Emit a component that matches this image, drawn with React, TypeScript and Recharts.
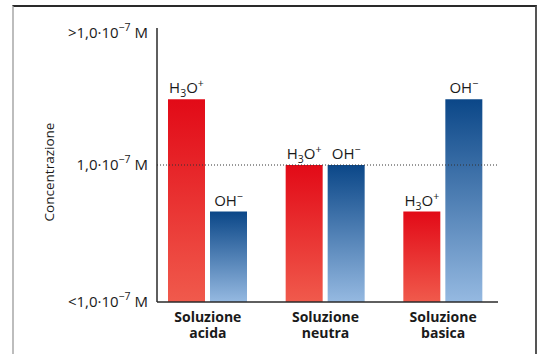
import { BarChart, Bar, XAxis, YAxis, ReferenceLine, LabelList } from 'recharts'

const categories = ['Soluzione acida', 'Soluzione neutra', 'Soluzione basica']
const h3oValues = [74, 50, 33]
const ohValues = [33, 50, 74]
const yTicks = [0, 50, 98]
const yTickPrefix: Record<number, string> = { 0: '<', 50: '', 98: '>' }

const data = categories.map((name, i) => ({ name, h3o: h3oValues[i], oh: ohValues[i] }))

const FONT = '"Open Sans", "Noto Sans", sans-serif'

function YTick(props: any) {
  const { x, y, payload } = props
  const prefix = yTickPrefix[payload.value] ?? ''
  return (
    <text x={x - 1} y={y} dy={5} textAnchor="end" fontFamily={FONT} fontSize={15} fill="#1a1a1a">
      {prefix}1,0·10
      <tspan dy={-7} fontSize={10.5}>−7</tspan>
      <tspan dy={7}> M</tspan>
    </text>
  )
}

function XTick(props: any) {
  const { x, y, payload } = props
  const [a, b] = String(payload.value).split(' ')
  return (
    <text x={x} y={y} textAnchor="middle" fontFamily={FONT} fontSize={14} fontWeight={700} fill="#1a1a1a">
      <tspan x={x} dy={12}>{a}</tspan>
      <tspan x={x} dy={16}>{b}</tspan>
    </text>
  )
}

function IonLabel(kind: 'h3o' | 'oh') {
  return (props: any) => {
    const { x, y, width } = props
    const cx = x + width / 2
    if (kind === 'h3o') {
      return (
        <text x={cx} y={y - 6} textAnchor="middle" fontFamily={FONT} fontSize={15} fill="#1a1a1a">
          H<tspan dy={4} fontSize={10.5}>3</tspan>
          <tspan dy={-4}>O</tspan>
          <tspan dy={-6} fontSize={10.5}>+</tspan>
        </text>
      )
    }
    return (
      <text x={cx} y={y - 6} textAnchor="middle" fontFamily={FONT} fontSize={15} fill="#1a1a1a">
        OH<tspan dy={-6} fontSize={10.5}>−</tspan>
      </text>
    )
  }
}

export default function App() {
  return (
    <div style={{ position: 'absolute', left: 0, top: 0, width: 544, height: 354, background: '#fff' }}>
      <div
        style={{
          position: 'absolute',
          left: 12,
          top: 5,
          width: 521,
          height: 360,
          borderTop: '2px solid #2a2a2a',
          borderLeft: '2px solid #bdbdbd',
          borderRight: '2px solid #555',
        }}
      />
      <div
        style={{
          position: 'absolute',
          left: 49,
          top: 172,
          transform: 'translate(-50%, -50%) rotate(-90deg)',
          fontFamily: FONT,
          fontSize: 13.5,
          color: '#1a1a1a',
          whiteSpace: 'nowrap',
        }}
      >
        Concentrazione
      </div>
      <div style={{ position: 'absolute', left: 0, top: 0 }}>
        <BarChart
          width={544}
          height={354}
          data={data}
          margin={{ top: 28, right: 46, bottom: 12, left: 57 }}
          barSize={37}
          barGap={5}
        >
          <defs>
            <linearGradient id="redGrad" x1="0" y1="0" x2="0" y2="1">
              <stop offset="0%" stopColor="#e20a17" />
              <stop offset="100%" stopColor="#f05a4c" />
            </linearGradient>
            <linearGradient id="blueGrad" x1="0" y1="0" x2="0" y2="1">
              <stop offset="0%" stopColor="#0b4788" />
              <stop offset="100%" stopColor="#95b9e1" />
            </linearGradient>
          </defs>
          <XAxis
            dataKey="name"
            height={40}
            padding={{ left: -8, right: -4 }}
            axisLine={{ stroke: '#2a2a2a', strokeWidth: 1.5 }}
            tickLine={false}
            tick={<XTick />}
            interval={0}
          />
          <YAxis
            type="number"
            domain={[0, 100]}
            ticks={yTicks}
            width={100}
            axisLine={{ stroke: '#2a2a2a', strokeWidth: 1.5 }}
            tickLine={false}
            tick={<YTick />}
          />
          <ReferenceLine y={50} stroke="#333" strokeDasharray="1 2" />
          <Bar dataKey="h3o" fill="url(#redGrad)" isAnimationActive={false}>
            <LabelList dataKey="h3o" content={IonLabel('h3o')} />
          </Bar>
          <Bar dataKey="oh" fill="url(#blueGrad)" isAnimationActive={false}>
            <LabelList dataKey="oh" content={IonLabel('oh')} />
          </Bar>
        </BarChart>
      </div>
    </div>
  )
}
